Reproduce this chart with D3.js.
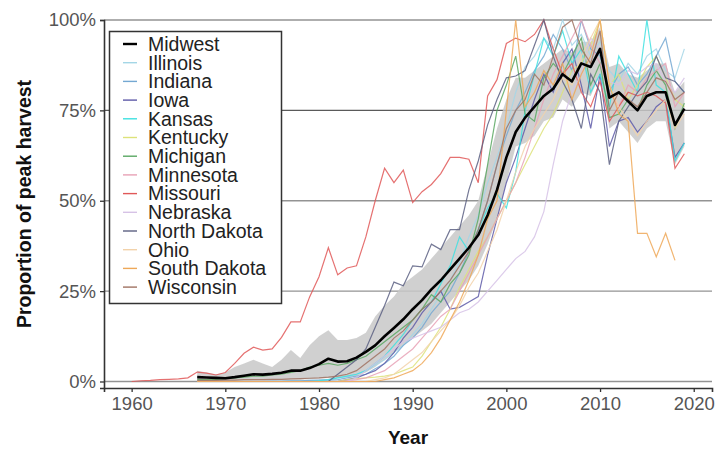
<!DOCTYPE html>
<html><head><meta charset="utf-8">
<script src="https://cdn.jsdelivr.net/npm/d3@7"></script>
<style>body{margin:0;background:#fff}svg{display:block}text{font-family:"Liberation Sans",Arial,sans-serif}</style>
</head><body>
<svg id="c" width="717" height="450"></svg>
<script>
const years = [1960,1961,1962,1963,1964,1965,1966,1967,1968,1969,1970,1971,1972,1973,1974,1975,1976,1977,1978,1979,1980,1981,1982,1983,1984,1985,1986,1987,1988,1989,1990,1991,1992,1993,1994,1995,1996,1997,1998,1999,2000,2001,2002,2003,2004,2005,2006,2007,2008,2009,2010,2011,2012,2013,2014,2015,2016,2017,2018,2019];
const pre = [null,null,null,null,null,null,null];
const midwest = pre.concat([0.012,0.011,0.010,0.009,0.012,0.016,0.020,0.019,0.021,0.024,0.030,0.030,0.037,
 0.048,0.063,0.055,0.056,0.066,0.082,0.100,0.125,0.148,0.172,
 0.200,0.225,0.255,0.280,0.310,0.340,0.370,0.405,0.460,0.530,
 0.620,0.690,0.730,0.760,0.790,0.810,0.850,0.830,0.880,0.870,
 0.920,0.785,0.800,0.775,0.750,0.790,0.800,0.800,0.710,0.755]);
const bandUpper = pre.concat([0.03,0.025,0.02,0.025,0.04,0.05,0.06,0.05,0.04,0.06,0.087,0.065,0.10,
 0.125,0.142,0.115,0.115,0.12,0.135,0.18,0.21,0.235,0.27,
 0.29,0.31,0.34,0.37,0.40,0.43,0.46,0.50,0.60,0.70,
 0.78,0.84,0.84,0.86,0.88,0.90,0.92,0.91,0.94,0.94,
 0.98,0.87,0.88,0.85,0.84,0.86,0.88,0.88,0.80,0.83]);
const bandLower = pre.concat([0,0,0,0,0,0,0.002,0.002,0.003,0.004,0.005,0.005,0.007,
 0.008,0.01,0.01,0.012,0.015,0.025,0.04,0.06,0.08,0.10,
 0.12,0.14,0.16,0.19,0.22,0.25,0.28,0.32,0.38,0.45,
 0.55,0.65,0.66,0.68,0.72,0.73,0.78,0.76,0.80,0.79,
 0.85,0.70,0.72,0.69,0.66,0.70,0.72,0.72,0.60,0.65]);
const illinois = pre.concat([0,0,0,0,0,0,0,0,0,0,0.002,0.002,0.003,
 0.004,0.006,0.01,0.015,0.02,0.03,0.045,0.06,0.08,0.10,
 0.13,0.16,0.20,0.24,0.28,0.33,0.40,0.46,0.55,0.62,
 0.70,0.80,0.87,0.90,0.95,0.92,1.00,0.93,0.96,0.90,
 0.94,0.86,0.83,0.88,0.85,0.90,0.92,0.86,0.84,0.92]);
const indiana = pre.concat([0,0,0,0,0,0,0,0,0.001,0.001,0.002,0.002,0.003,
 0.004,0.004,0.005,0.01,0.015,0.02,0.035,0.05,0.07,0.10,
 0.12,0.15,0.19,0.22,0.25,0.30,0.36,0.42,0.50,0.60,
 0.68,0.75,0.80,0.86,0.90,0.96,0.92,0.86,1.00,0.92,
 0.90,0.80,0.85,0.87,0.82,0.85,0.90,0.95,0.83,0.80]);
const iowa = pre.concat([0,0,0,0,0,0,0,0,0,0,0,0,0,
 0,0,0,0.005,0.01,0.02,0.03,0.05,0.08,0.12,
 0.15,0.19,0.22,0.25,0.20,0.205,0.22,0.235,0.35,0.45,
 0.55,0.62,0.70,0.78,0.85,0.80,0.88,0.92,0.82,0.70,
 0.85,0.65,0.72,0.73,0.69,0.72,0.76,0.78,0.62,0.66]);
const kansas = pre.concat([0,0,0,0,0,0,0,0,0,0,0,0,0,
 0.002,0.005,0.01,0.015,0.02,0.03,0.05,0.07,0.10,0.13,
 0.17,0.20,0.22,0.27,0.32,0.40,0.36,0.42,0.48,0.52,
 0.48,0.58,0.75,0.85,0.95,0.90,0.97,0.88,0.92,0.80,
 0.85,0.76,0.90,0.85,0.80,1.00,0.82,0.80,0.61,0.66]);
const kentucky = pre.concat([0,0,0,0,0,0,0,0,0,0,0,0,0,
 0,0,0,0.005,0.008,0.01,0.012,0.015,0.02,0.03,
 0.04,0.07,0.11,0.15,0.20,0.26,0.31,0.36,0.40,0.45,
 0.50,0.55,0.60,0.65,0.70,0.74,0.80,0.86,0.88,0.93,
 1.00,0.82,0.85,0.78,0.82,0.87,0.90,0.84,0.78,0.76]);
const michigan = pre.concat([0.005,0.005,0.006,0.008,0.01,0.012,0.015,0.015,0.018,0.02,0.025,0.03,0.04,
 0.045,0.05,0.045,0.05,0.06,0.07,0.09,0.11,0.13,0.15,
 0.17,0.20,0.24,0.22,0.27,0.30,0.35,0.45,0.60,0.75,
 0.82,0.90,0.74,0.72,0.84,0.88,0.85,0.90,0.95,0.82,
 0.88,0.73,0.74,0.78,0.75,0.82,0.86,0.82,0.70,0.77]);
const minnesota = pre.concat([0,0,0,0,0,0,0,0,0,0,0,0,0,
 0,0,0,0.002,0.005,0.01,0.02,0.03,0.05,0.07,
 0.09,0.12,0.15,0.18,0.20,0.25,0.30,0.35,0.40,0.45,
 0.50,0.55,0.62,0.70,0.78,0.85,0.90,0.95,1.00,0.93,
 0.88,0.80,0.76,0.82,0.80,0.84,0.86,0.88,0.76,0.80]);
const missouri = [0.000,0.002,0.003,0.005,0.006,0.007,0.010,
 0.026,0.023,0.018,0.025,0.050,0.078,0.095,0.087,0.090,0.122,0.165,0.165,0.234,
 0.290,0.370,0.295,0.314,0.320,0.400,0.500,0.590,0.550,0.585,
 0.495,0.525,0.545,0.575,0.620,0.620,0.615,0.550,0.790,0.835,
 0.935,0.950,0.940,0.960,1.000,0.920,0.850,0.880,0.800,0.760,
 0.830,0.720,0.760,0.800,0.790,0.800,0.790,0.770,0.590,0.630];
const nebraska = pre.concat([0,0,0,0,0,0,0,0,0,0,0,0,0,
 0,0,0,0,0.01,0.03,0.05,0.07,0.09,0.11,
 0.12,0.13,0.14,0.15,0.17,0.19,0.20,0.22,0.25,0.28,
 0.31,0.34,0.36,0.40,0.47,0.60,0.72,0.80,0.85,0.95,
 0.92,0.83,0.82,0.86,0.85,0.87,0.88,0.83,0.80,0.84]);
const northDakota = pre.concat([0,0,0,0,0,0,0,0,0,0,0,0,0,
 0,0,0.02,0.04,0.06,0.09,0.15,0.21,0.275,0.265,
 0.32,0.317,0.38,0.365,0.42,0.42,0.53,0.61,0.71,0.78,
 0.84,0.845,0.86,0.93,1.00,0.90,0.83,0.78,0.70,0.85,
 0.80,0.60,0.72,0.76,0.80,0.83,0.90,0.84,0.83,0.80]);
const ohio = pre.concat([0,0,0,0,0,0,0,0,0,0,0,0,0,
 0,0,0,0,0,0,0.005,0.01,0.02,0.04,
 0.06,0.08,0.11,0.14,0.17,0.21,0.26,0.30,0.36,0.42,
 0.50,0.58,0.65,0.70,0.74,0.78,0.84,0.82,0.90,0.95,
 1.00,0.82,0.76,0.72,0.68,0.72,0.75,0.78,0.70,0.74]);
const southDakota = pre.concat([0,0,0,0,0,0,0,0,0,0,0,0,0,
 0,0,0,0,0,0,0,0.005,0.01,0.02,
 0.03,0.05,0.08,0.12,0.17,0.22,0.28,0.35,0.45,0.50,
 0.75,1.00,0.76,0.80,0.86,0.82,0.88,0.78,0.85,0.90,
 1.00,0.82,0.74,0.72,0.41,0.41,0.345,0.41,0.335,null]);
const wisconsin = pre.concat([0.003,0.003,0.003,0.004,0.004,0.005,0.005,0.005,0.006,0.006,0.007,0.008,0.009,
 0.01,0.012,0.015,0.02,0.03,0.05,0.07,0.09,0.12,0.14,
 0.17,0.20,0.22,0.25,0.28,0.32,0.36,0.42,0.50,0.60,
 0.70,0.75,0.78,0.85,0.82,0.90,0.98,1.00,0.92,0.88,
 0.97,0.75,0.80,0.78,0.76,0.80,0.84,0.83,0.78,0.80]);

const stateNames = ["Illinois","Indiana","Iowa","Kansas","Kentucky","Michigan","Minnesota","Missouri","Nebraska","North Dakota","Ohio","South Dakota","Wisconsin"];
const stateValues = [illinois,indiana,iowa,kansas,kentucky,michigan,minnesota,missouri,nebraska,northDakota,ohio,southDakota,wisconsin];
const stateColors = ["#a4d6e6","#74a8d2","#5e5aa8","#3ee0e0","#dde27a","#5aa862","#e8a2b6","#e05858","#d6c2e6","#5c6082","#f2d2aa","#eea858","#a07262"];
const yTicks = [0,0.25,0.5,0.75,1];
const xTicks = [1960,1970,1980,1990,2000,2010,2020];

const svg = d3.select("#c");
const L=104, R=712, T=20, B=388;
const x = d3.scaleLinear().domain([1957.05,2021.95]).range([L,R]);
const y = d3.scaleLinear().domain([-0.018,1.0]).range([B,T]);

// gridlines
svg.append("g").selectAll("line").data(yTicks).join("line")
  .attr("x1",L).attr("x2",R).attr("y1",d=>y(d)).attr("y2",d=>y(d))
  .attr("stroke",d=>d===0.75?"#5a5a5a":"#939393").attr("stroke-width",1.3);

// band
const idx = d3.range(years.length);
const area = d3.area().defined(i=>bandUpper[i]!=null)
  .x(i=>x(years[i])).y0(i=>y(bandLower[i])).y1(i=>y(bandUpper[i]));
svg.append("path").datum(idx).attr("d",area).attr("fill","#c8c8c8").attr("opacity",0.85);

// states
const line = vals => d3.line().defined(i=>vals[i]!=null).x(i=>x(years[i])).y(i=>y(vals[i]))(idx);
svg.append("g").selectAll("path").data(stateValues).join("path")
  .attr("d",v=>line(v)).attr("fill","none")
  .attr("stroke",(v,i)=>stateColors[i]).attr("stroke-width",1.2).attr("opacity",0.85);

// midwest
svg.append("path").attr("d",line(midwest)).attr("fill","none").attr("stroke","#000").attr("stroke-width",2.6).attr("stroke-linejoin","round");

// axes
const ax = svg.append("g").attr("transform",`translate(0,${B})`).call(d3.axisBottom(x).tickValues(xTicks).tickFormat(d3.format("d")).tickSize(4).tickPadding(5));
const ay = svg.append("g").attr("transform",`translate(${L},0)`).call(d3.axisLeft(y).tickValues(yTicks).tickFormat(d3.format(".0%")).tickSize(4).tickPadding(4));
[ax,ay].forEach(g=>{
  g.select(".domain").attr("stroke","#333").attr("stroke-width",1.6);
  g.selectAll(".tick line").attr("stroke","#333").attr("stroke-width",1.3);
  g.selectAll(".tick text").attr("fill","#555").style("font-size","18.5px").style("font-family","'Liberation Sans',Arial,sans-serif");
});

// titles
svg.append("text").attr("x",(L+R)/2).attr("y",444).attr("text-anchor","middle")
  .style("font-weight","bold").style("font-size","19px").attr("fill","#111").text("Year");
svg.append("text").attr("transform",`translate(24,${(T+B)/2}) rotate(-90)`).attr("text-anchor","middle")
  .attr("dy","0.35em").style("font-weight","bold").style("font-size","19.5px").attr("fill","#111").text("Proportion of peak harvest");

// legend
const lg = svg.append("g");
lg.append("rect").attr("x",109.5).attr("y",31.5).attr("width",172).attr("height",272).attr("fill","#fff").attr("stroke","#333").attr("stroke-width",1.5);
const legNames = ["Midwest"].concat(stateNames);
const legColors = ["#000"].concat(stateColors);
const items = lg.selectAll("g.it").data(legNames).join("g").attr("class","it")
  .attr("transform",(d,i)=>`translate(0,${44+i*18.7})`);
items.append("line").attr("x1",123).attr("x2",137).attr("y1",0).attr("y2",0)
  .attr("stroke",(d,i)=>legColors[i]).attr("stroke-width",(d,i)=>i===0?2.4:1.4);
items.append("text").attr("x",148).attr("dy","0.35em").style("font-size","19.5px").attr("fill","#222").text(d=>d);
</script>
</body></html>
